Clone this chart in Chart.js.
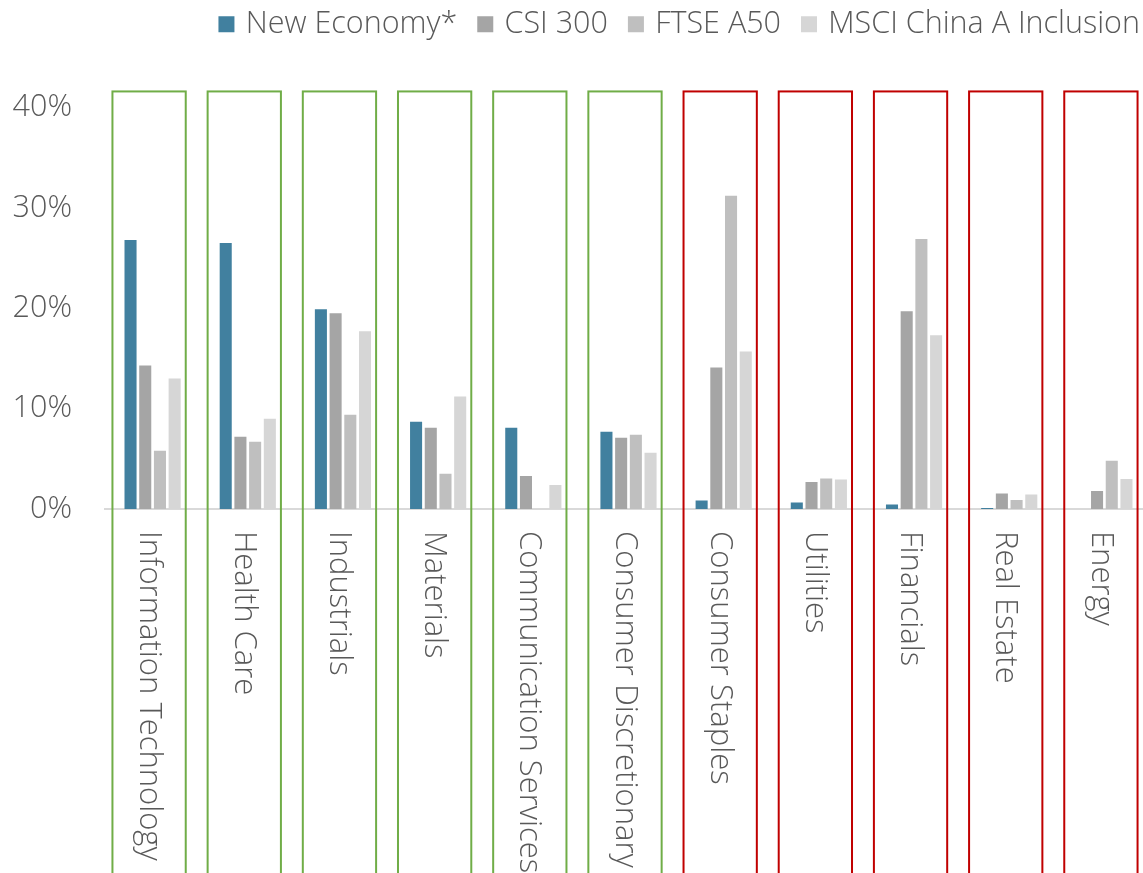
<!DOCTYPE html>
<html>
<head>
<meta charset="utf-8">
<script src="https://cdn.jsdelivr.net/npm/chart.js@4/dist/chart.umd.min.js"></script>
<style>
  html, body { margin: 0; padding: 0; background: #fff; overflow: hidden; }
  #wrap { width: 1152px; height: 873px; }
</style>
</head>
<body>
<div id="wrap"><canvas id="c" width="1152" height="873"></canvas></div>
<script>
const categories = ['Information Technology', 'Health Care', 'Industrials', 'Materials',
  'Communication Services', 'Consumer Discretionary', 'Consumer Staples', 'Utilities',
  'Financials', 'Real Estate', 'Energy'];
const sectorGroup = ['new', 'new', 'new', 'new', 'new', 'new', 'old', 'old', 'old', 'old', 'old'];
const seriesNames = ['New Economy*', 'CSI 300', 'FTSE A50', 'MSCI China A Inclusion'];
const newEconomy = [26.8, 26.5, 19.9, 8.7, 8.1, 7.7, 0.85, 0.65, 0.45, 0.1, 0];
const csi300 = [14.3, 7.2, 19.5, 8.1, 3.3, 7.1, 14.1, 2.7, 19.7, 1.55, 1.8];
const ftseA50 = [5.8, 6.7, 9.4, 3.5, 0, 7.4, 31.2, 3.05, 26.9, 0.9, 4.8];
const msciInclusion = [13.0, 9.0, 17.7, 11.2, 2.4, 5.6, 15.7, 2.95, 17.3, 1.45, 3.0];
const yTicks = [0, 10, 20, 30, 40];

const FONT = "'Open Sans', 'Noto Sans', sans-serif";
const TEXT = '#595959';
const colors = ['#41809F', '#A5A5A5', '#BFBFBF', '#D6D6D6'];
const groupColors = { new: '#70AD47', old: '#C00000' };

const legendTweak = {
  id: 'legendTweak',
  beforeInit(chart) {
    const lg = chart.legend;
    const fit = lg.fit;
    lg.fit = function () { fit.call(this); this.height += 43; };
  },
  afterLayout(chart) {
    const lg = chart.legend;
    lg.left += 12; lg.right += 12;
    lg.top -= 15; lg.bottom -= 15;
  }
};

const boxesAndLabels = {
  id: 'boxesAndLabels',
  afterDatasetsDraw(chart) {
    const ctx = chart.ctx;
    const x = chart.scales.x, y = chart.scales.y;
    const step = x.getPixelForValue(1) - x.getPixelForValue(0);
    const half = step * 0.385;
    const top = y.getPixelForValue(41.6);
    ctx.save();
    ctx.lineWidth = 2;
    categories.forEach((c, i) => {
      const cx = x.getPixelForValue(i) - 3.5;
      ctx.strokeStyle = groupColors[sectorGroup[i]];
      ctx.strokeRect(cx - half, top, half * 2, chart.height + 20 - top);
    });
    ctx.restore();
  },
  afterDraw(chart) {
    const ctx = chart.ctx;
    const x = chart.scales.x, y = chart.scales.y;
    const base = y.getPixelForValue(0);
    ctx.save();
    ctx.fillStyle = TEXT;
    ctx.font = "300 31px " + FONT;
    ctx.textAlign = 'left';
    ctx.textBaseline = 'middle';
    categories.forEach((c, i) => {
      const cx = x.getPixelForValue(i) - 4;
      ctx.save();
      ctx.translate(cx, base + 22);
      ctx.rotate(Math.PI / 2);
      ctx.fillText(c, 0, 0);
      ctx.restore();
    });
    ctx.restore();
  }
};

const series = [newEconomy, csi300, ftseA50, msciInclusion];
new Chart(document.getElementById('c'), {
  type: 'bar',
  data: {
    labels: categories,
    datasets: series.map((d, i) => ({
      label: seriesNames[i],
      data: d,
      backgroundColor: colors[i],
      borderColor: colors[i],
      borderWidth: 0,
      categoryPercentage: 0.618,
      barPercentage: 0.82
    }))
  },
  options: {
    responsive: false,
    animation: false,
    layout: { padding: { left: 11, top: 0, right: 0, bottom: 356 } },
    plugins: {
      tooltip: { enabled: false },
      legend: {
        position: 'top',
        align: 'end',
        labels: {
          color: TEXT,
          font: { family: FONT, size: 30.5, weight: 300 },
          boxWidth: 8,
          boxHeight: 8,
          padding: 24,
          generateLabels(chart) {
            return Chart.defaults.plugins.legend.labels.generateLabels(chart)
              .map(l => Object.assign(l, { lineWidth: 8, strokeStyle: l.fillStyle }));
          }
        }
      }
    },
    scales: {
      x: {
        grid: { display: false },
        border: { display: true, color: '#D9D9D9', width: 2 },
        ticks: { display: false }
      },
      y: {
        min: 0, max: 40,
        afterBuildTicks(scale) { scale.ticks = yTicks.map(v => ({ value: v })); },
        afterFit(scale) { scale.width = 94; },
        grid: { display: false },
        border: { display: false },
        ticks: {
          color: TEXT,
          padding: 25,
          font: { family: FONT, size: 30.5, weight: 300 },
          callback: v => v + '%'
        }
      }
    }
  },
  plugins: [legendTweak, boxesAndLabels]
});
</script>
</body>
</html>
